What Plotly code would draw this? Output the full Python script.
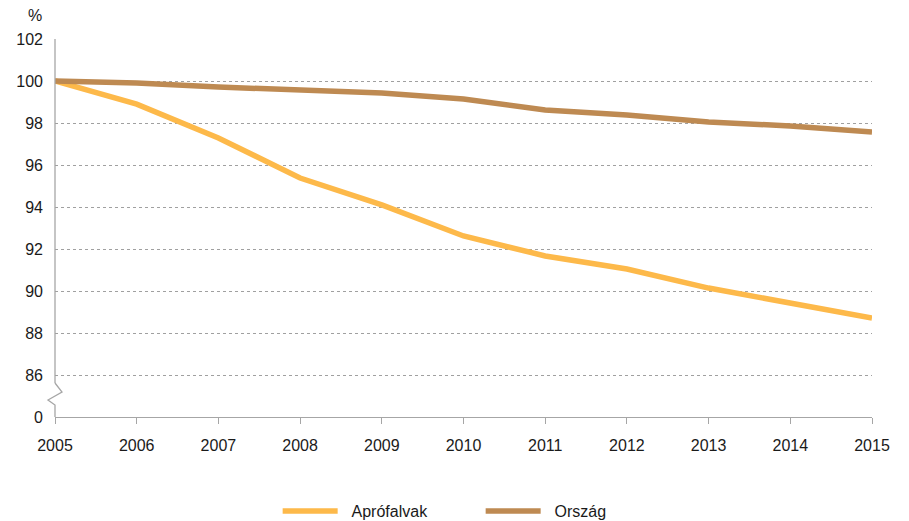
import plotly.graph_objects as go

years = [2005, 2006, 2007, 2008, 2009, 2010, 2011, 2012, 2013, 2014, 2015]
aprofalvak = [100.0, 98.9, 97.29, 95.38, 94.1, 92.62, 91.67, 91.05, 90.14, 89.43, 88.71]
orszag = [100.0, 99.9, 99.71, 99.57, 99.43, 99.14, 98.62, 98.38, 98.05, 97.86, 97.57]
ytick_vals = [84, 86, 88, 90, 92, 94, 96, 98, 100, 102]
ytick_text = ["0", "86", "88", "90", "92", "94", "96", "98", "100", "102"]
series_names = ["Aprófalvak", "Ország"]

FONT = "Liberation Sans, Arial, sans-serif"
OFF = 8  # page body margin
W, H = 909 - OFF, 521 - OFF
ML, MR, MT, MB = 55 - OFF, 37, 39 - OFF, 104
PW, PH = W - ML - MR, H - MT - MB

# page-pixel -> paper conversions
def py(p):
    return (H - MB - (p - OFF)) / PH

def px(p):
    return ((p - OFF) - ML) / PW

NB = "\u00a0\u00a0"

fig = go.Figure()
fig.add_trace(go.Scatter(x=years, y=aprofalvak, name=NB + series_names[0], mode="lines",
                         line=dict(color="#FDB94A", width=5.5)))
fig.add_trace(go.Scatter(x=years, y=orszag, name=NB + series_names[1], mode="lines",
                         line=dict(color="#BE8A52", width=5.5)))

axis_gray = "#a6a6a6"
shapes = [
    dict(type="line", xref="paper", yref="paper", x0=0, x1=0, y0=py(383), y1=1,
         line=dict(color=axis_gray, width=1.3)),
    dict(type="path", xref="paper", yref="paper",
         path=f"M {px(55)},{py(383)} L {px(62)},{py(392)} L {px(48)},{py(400)} L {px(55)},{py(405)} L {px(55)},{py(417)}",
         line=dict(color=axis_gray, width=1.3)),
]

fig.update_layout(
    width=W, height=H,
    margin=dict(l=ML, r=MR, t=MT, b=MB, autoexpand=False),
    paper_bgcolor="white", plot_bgcolor="white",
    font=dict(family=FONT, size=16, color="#1a1a1a"),
    showlegend=True,
    legend=dict(orientation="h", x=0.521, xanchor="center", y=py(494), yanchor="top",
                font=dict(size=16), itemwidth=55, entrywidth=133, traceorder="normal"),
    xaxis=dict(range=[2005, 2015], tickmode="array", tickvals=years,
               ticktext=[str(y) for y in years],
               showline=True, linecolor=axis_gray, linewidth=1.3,
               ticks="outside", ticklen=6, tickcolor=axis_gray, tickwidth=1.3,
               ticklabelstandoff=8,
               showgrid=False, zeroline=False, tickfont=dict(size=16)),
    yaxis=dict(range=[84, 102], tickmode="array", tickvals=ytick_vals, ticktext=ytick_text,
               showline=False, showgrid=True, gridcolor="#a0a0a0", griddash="dot", gridwidth=1,
               zeroline=False, ticks="", ticklabelstandoff=11, tickfont=dict(size=16)),
    shapes=shapes,
    annotations=[dict(text="%", xref="paper", yref="paper", x=px(35), y=py(15),
                      xanchor="center", yanchor="middle", showarrow=False,
                      font=dict(size=16))],
)

fig.write_html("out.html")
